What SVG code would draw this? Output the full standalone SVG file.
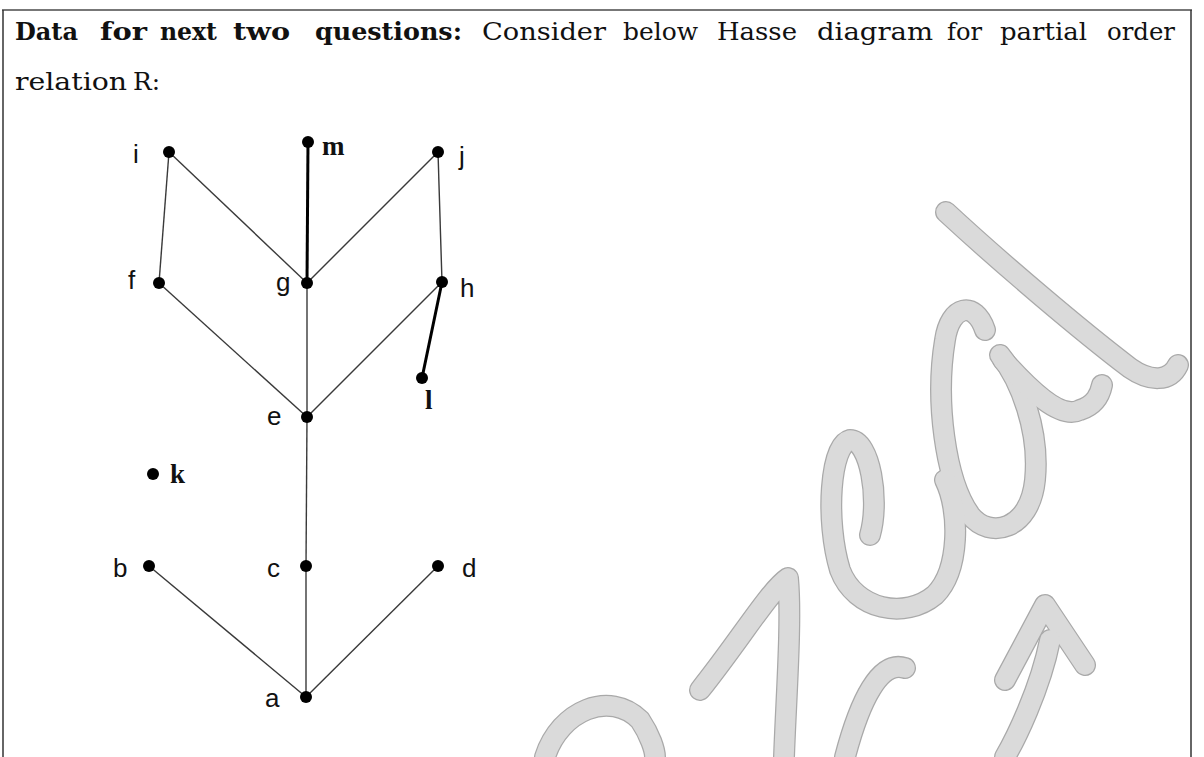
<svg xmlns="http://www.w3.org/2000/svg" width="1204" height="757" viewBox="0 0 1204 757">
<style>
.hd{font-family:"DejaVu Serif","Liberation Serif",serif;font-size:24px;fill:#111}
.b{font-weight:bold}
.lab{font-family:"Liberation Sans",Arial,sans-serif;font-size:26px;fill:#111}
.lbs{font-family:"Liberation Serif","Times New Roman",serif;font-size:27px;font-weight:bold;fill:#111}
.e{stroke:#3a3a3a;stroke-width:1.4;fill:none}
.et{stroke:#000;stroke-width:3;fill:none}
.dot{fill:#000}
.wo{stroke:#a9a9a9;stroke-width:22;fill:none;stroke-linecap:round;stroke-linejoin:round}
.wi{stroke:#dadada;stroke-width:19.5;fill:none;stroke-linecap:round;stroke-linejoin:round}
</style>
<rect width="1204" height="757" fill="#fff"/>
<g id="watermark">
<defs>
<path id="w1" d="M946,212 C1000,262 1080,330 1130,368 C1150,382 1170,382 1178,365"/>
<path id="w2" d="M985,330 C975,300 950,305 945,340 C935,400 945,480 970,515 C990,540 1030,530 1035,480 C1040,430 1020,380 1000,355"/>
<path id="w3" d="M1003,360 C1030,390 1060,420 1080,410 C1095,405 1100,395 1102,385"/>
<path id="w4" d="M870,535 C880,500 870,440 850,440 C830,445 825,520 840,570 C855,610 905,620 935,595 C960,570 960,510 945,480"/>
<path id="w5" d="M700,690 C740,640 770,590 788,578 C792,620 786,700 784,757"/>
<path id="w6" d="M905,668 C880,660 860,700 845,757"/>
<path id="w7" d="M1005,680 L1045,605 L1085,665"/>
<path id="w8" d="M1050,640 C1040,690 1015,740 1005,757"/>
<path id="w9" d="M545,757 C560,710 610,690 640,720 C650,735 655,750 655,757"/>
</defs>
<use href="#w1" class="wo"/><use href="#w2" class="wo"/><use href="#w3" class="wo"/><use href="#w4" class="wo"/><use href="#w5" class="wo"/><use href="#w6" class="wo"/><use href="#w7" class="wo"/><use href="#w8" class="wo"/><use href="#w9" class="wo"/>
<use href="#w1" class="wi"/><use href="#w2" class="wi"/><use href="#w3" class="wi"/><use href="#w4" class="wi"/><use href="#w5" class="wi"/><use href="#w6" class="wi"/><use href="#w7" class="wi"/><use href="#w8" class="wi"/><use href="#w9" class="wi"/>
</g>
<g id="frame">
<line x1="2" y1="10" x2="1192" y2="10" stroke="#777" stroke-width="2"/>
<line x1="3" y1="10" x2="3" y2="757" stroke="#333" stroke-width="1.5"/>
<line x1="1191" y1="10" x2="1191" y2="757" stroke="#333" stroke-width="1.5"/>
</g>
<g id="heading">
<text class="hd b" y="40"><tspan x="15" textLength="63" lengthAdjust="spacingAndGlyphs">Data</tspan><tspan x="100" textLength="47" lengthAdjust="spacingAndGlyphs">for</tspan><tspan x="160" textLength="57" lengthAdjust="spacingAndGlyphs">next</tspan><tspan x="233" textLength="57" lengthAdjust="spacingAndGlyphs">two</tspan><tspan x="315" textLength="147" lengthAdjust="spacingAndGlyphs">questions:</tspan></text>
<text class="hd" y="40"><tspan x="482" textLength="124" lengthAdjust="spacingAndGlyphs">Consider</tspan><tspan x="623" textLength="75" lengthAdjust="spacingAndGlyphs">below</tspan><tspan x="717" textLength="80" lengthAdjust="spacingAndGlyphs">Hasse</tspan><tspan x="817" textLength="116" lengthAdjust="spacingAndGlyphs">diagram</tspan><tspan x="947" textLength="35" lengthAdjust="spacingAndGlyphs">for</tspan><tspan x="1000" textLength="87" lengthAdjust="spacingAndGlyphs">partial</tspan><tspan x="1107" textLength="68" lengthAdjust="spacingAndGlyphs">order</tspan></text>
<text class="hd" y="90"><tspan x="15" textLength="112" lengthAdjust="spacingAndGlyphs">relation</tspan><tspan x="133" textLength="27" lengthAdjust="spacingAndGlyphs">R:</tspan></text>
</g>
<g id="connectors">
<line class="e" x1="169" y1="152" x2="159" y2="283"/>
<line class="e" x1="169" y1="152" x2="307" y2="283"/>
<line class="et" x1="308" y1="142" x2="307" y2="283"/>
<line class="e" x1="438" y1="152" x2="307" y2="283"/>
<line class="e" x1="438" y1="152" x2="442" y2="282"/>
<line class="e" x1="159" y1="283" x2="307" y2="417"/>
<line class="e" x1="307" y1="283" x2="307" y2="417"/>
<line class="e" x1="442" y1="282" x2="307" y2="417"/>
<line class="et" x1="442" y1="282" x2="422" y2="378"/>
<line class="e" x1="307" y1="417" x2="306" y2="566"/>
<line class="e" x1="306" y1="566" x2="306" y2="697"/>
<line class="e" x1="149" y1="566" x2="306" y2="697"/>
<line class="e" x1="438" y1="566" x2="306" y2="697"/>
</g>
<g id="node-i"><circle class="dot" cx="169" cy="152" r="6"/><text class="lab" x="133" y="163">i</text></g>
<g id="node-m"><circle class="dot" cx="308" cy="142" r="6"/><text class="lbs" x="322" y="155">m</text></g>
<g id="node-j"><circle class="dot" cx="438" cy="152" r="6"/><text class="lab" x="459" y="165">j</text></g>
<g id="node-f"><circle class="dot" cx="159" cy="283" r="6"/><text class="lab" x="128" y="289">f</text></g>
<g id="node-g"><circle class="dot" cx="307" cy="283" r="6"/><text class="lab" x="276" y="291">g</text></g>
<g id="node-h"><circle class="dot" cx="442" cy="282" r="6"/><text class="lab" x="460" y="297">h</text></g>
<g id="node-l"><circle class="dot" cx="422" cy="378" r="6"/><text class="lbs" x="425" y="409">l</text></g>
<g id="node-e"><circle class="dot" cx="307" cy="417" r="6"/><text class="lab" x="267" y="425">e</text></g>
<g id="node-k"><circle class="dot" cx="153" cy="474" r="6"/><text class="lbs" x="170" y="483">k</text></g>
<g id="node-b"><circle class="dot" cx="149" cy="566" r="6"/><text class="lab" x="113" y="577">b</text></g>
<g id="node-c"><circle class="dot" cx="306" cy="566" r="6"/><text class="lab" x="267" y="577">c</text></g>
<g id="node-d"><circle class="dot" cx="438" cy="566" r="6"/><text class="lab" x="462" y="577">d</text></g>
<g id="node-a"><circle class="dot" cx="306" cy="697" r="6"/><text class="lab" x="265" y="707">a</text></g>
</svg>
